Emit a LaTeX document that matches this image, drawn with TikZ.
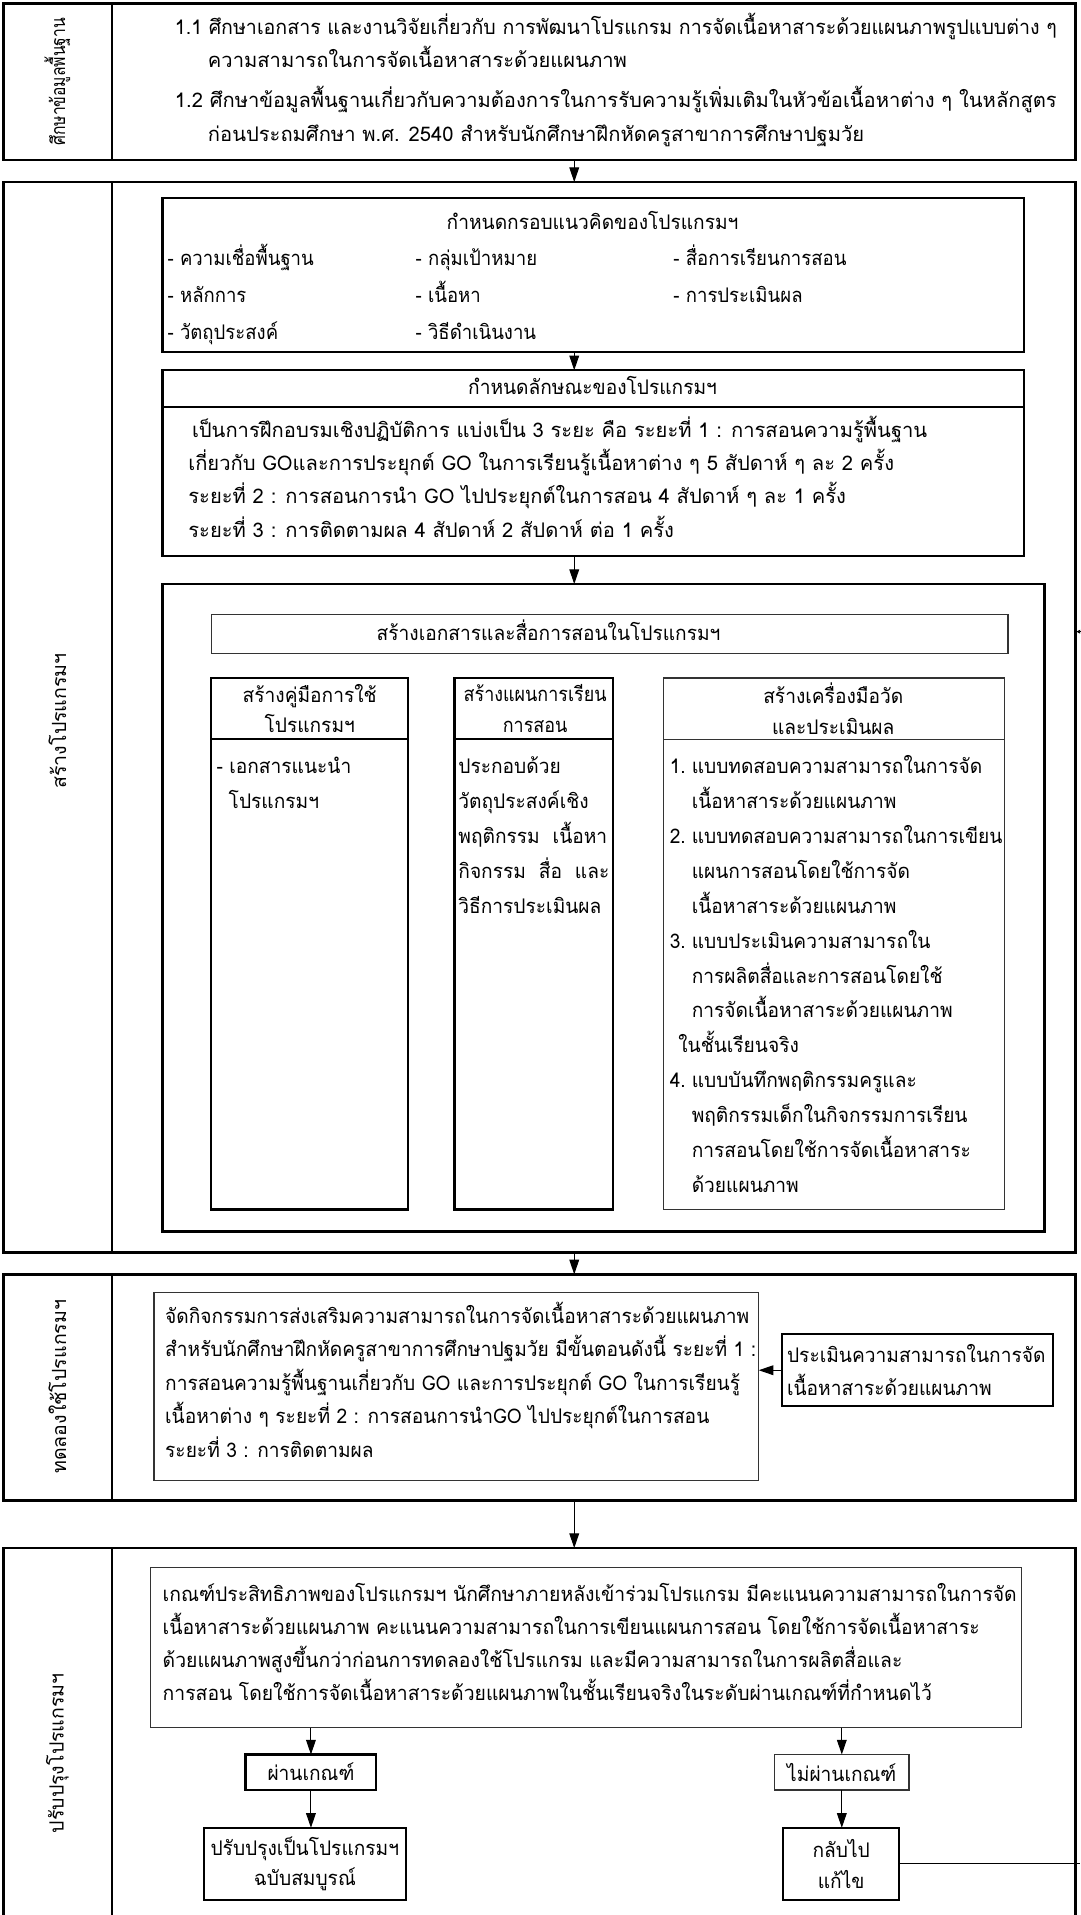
\documentclass[tikz,border=0pt]{standalone}
\usepackage{fontspec}
\setmainfont[Script=Thai,FakeStretch=0.95]{Loma}
\newfontfamily\fx[Script=Thai]{Loma}
\newfontfamily\fxa[Script=Thai,FakeStretch=0.972]{Loma}
\newfontfamily\fxf[Script=Thai,FakeStretch=0.96]{Loma}
\newfontfamily\fxc[Script=Thai,FakeStretch=0.92]{Loma}
\newfontfamily\fxn[Script=Thai,FakeStretch=0.89]{Loma}
\newfontfamily\fxl[Script=Thai,FakeStretch=0.8]{Loma}
\usetikzlibrary{arrows.meta,calc}
\newcommand{\bodyfont}{\fontsize{16.5}{27.4}\selectfont}
\newcommand{\itemfont}{\fxc\fontsize{16.5}{30.5}\selectfont}
\newcommand{\colfont}{\fontsize{16.5}{28.6}\selectfont}
\newcommand{\hdfont}{\fontsize{16.5}{25}\selectfont}
\newcommand{\labfont}{\fx\fontsize{16}{20}\selectfont}
\begin{document}
\begin{tikzpicture}[x=1pt,y=-1pt,
  sect/.style={draw, line width=2.2pt, minimum width=877pt, inner sep=0pt, outer sep=0pt, anchor=north west},
  box/.style={draw, line width=1.8pt, inner sep=0pt, outer sep=0pt, anchor=north west},
  thinbox/.style={draw=black!80, line width=1pt, inner sep=0pt, outer sep=0pt, anchor=north west},
  arr/.style={-{Triangle[length=12pt,width=8pt]}, line width=0.8pt},
  txt/.style={inner sep=0pt, anchor=base west, align=left, font=\bodyfont},
  ctxt/.style={inner sep=0pt, align=center, font=\hdfont},
  lab/.style={rotate=90, font=\labfont, inner sep=0pt},
  divline/.style={line width=1.5pt}]
\useasboundingbox (0,0) rectangle (884,1567.4);
\coordinate (axis) at (470,0);
\coordinate (div) at (92,0);

% ---------- section 1
\node[sect, minimum height=128pt] (S1) at (3,3) {};
\draw[divline] (S1.north west -| div) -- (S1.south west -| div);
\node[lab, font=\fxl\fontsize{16}{20}\selectfont] (L1) at (47,67) {ศึกษาข้อมูลพื้นฐาน};
\node[txt, font=\fxa\bodyfont] (t1a) at (143,28) {1.1 ศึกษาเอกสาร และงานวิจัยเกี่ยวกับ การพัฒนาโปรแกรม การจัดเนื้อหาสาระด้วยแผนภาพรูปแบบต่าง ๆ};
\node[txt, font=\fx\bodyfont] (t1b) at (170,55) {ความสามารถในการจัดเนื้อหาสาระด้วยแผนภาพ};
\node[txt, font=\fx\bodyfont] (t1c) at (143,88) {1.2 ศึกษาข้อมูลพื้นฐานเกี่ยวกับความต้องการในการรับความรู้เพิ่มเติมในหัวข้อเนื้อหาต่าง ๆ ในหลักสูตร};
\node[txt, font=\fx\bodyfont] (t1d) at (170,116) {ก่อนประถมศึกษา พ.ศ. 2540 สำหรับนักศึกษาฝึกหัดครูสาขาการศึกษาปฐมวัย};

% ---------- section 2
\node[sect, minimum height=876pt] (S2) at (3,149) {};
\draw[divline] (S2.north west -| div) -- (S2.south west -| div);
\node[lab] (L2) at (47,590) {สร้างโปรแกรมฯ};
\draw[arr] (S1.south -| axis) -- (S2.north -| axis);

\node[box, minimum width=705pt, minimum height=126pt] (A) at (133,162) {};
\node[ctxt, anchor=base] (Ah) at (485,188) {กำหนดกรอบแนวคิดของโปรแกรมฯ};
\node[txt, font=\itemfont] (a1) at (137,278) {- ความเชื่อพื้นฐาน\\- หลักการ\\- วัตถุประสงค์};
\node[txt, font=\itemfont] (a2) at (340,278) {- กลุ่มเป้าหมาย\\- เนื้อหา\\- วิธีดำเนินงาน};
\node[txt, font=\itemfont] (a3) at (551,247.5) {- สื่อการเรียนการสอน\\- การประเมินผล};

\node[box, minimum width=705pt, minimum height=152pt] (B) at (133,303) {};
\draw[line width=1.8pt] (133,333) -- (838,333);
\node[ctxt, anchor=base] (Bh) at (485,323) {กำหนดลักษณะของโปรแกรมฯ};
\node[txt, font=\fx\bodyfont] (b1) at (157,358) {เป็นการฝึกอบรมเชิงปฏิบัติการ แบ่งเป็น 3 ระยะ คือ ระยะที่ 1 : การสอนความรู้พื้นฐาน};
\node[txt, font=\fx\bodyfont] (b2) at (154,439.8) {เกี่ยวกับ GOและการประยุกต์ GO ในการเรียนรู้เนื้อหาต่าง ๆ 5 สัปดาห์ ๆ ละ 2 ครั้ง\\ระยะที่ 2 : การสอนการนำ GO ไปประยุกต์ในการสอน 4 สัปดาห์ ๆ ละ 1 ครั้ง\\ระยะที่ 3 : การติดตามผล 4 สัปดาห์ 2 สัปดาห์ ต่อ 1 ครั้ง};
\draw[arr] (A.south -| axis) -- (B.north -| axis);

\node[box, line width=2.2pt, minimum width=722pt, minimum height=530pt] (C) at (133,478) {};
\draw[arr] (B.south -| axis) -- (C.north -| axis);
\node[thinbox, minimum width=652pt, minimum height=32pt] (H) at (173,503) {};
\node[ctxt, anchor=base] (Hh) at (449,524) {สร้างเอกสารและสื่อการสอนในโปรแกรมฯ};

\node[box, minimum width=161pt, minimum height=435pt] (K1) at (173,555) {};
\draw[line width=1.8pt] (173,605) -- (334,605);
\node[ctxt] (K1h) at (253.5,580) {สร้างคู่มือการใช้\\โปรแกรมฯ};
\node[txt, font=\colfont] (k1) at (177,661.6) {- เอกสารแนะนำ\\\hspace*{10pt}โปรแกรมฯ};

\node[box, minimum width=130pt, minimum height=435pt] (K2) at (372,555) {};
\draw[line width=1.8pt] (372,605) -- (502,605);
\node[ctxt, font=\fxn\hdfont] (K2h) at (438,580) {สร้างแผนการเรียน\\การสอน};
\node[txt, font=\colfont] (k2) at (375,747.4) {ประกอบด้วย\\วัตถุประสงค์เชิง\\พฤติกรรม \ เนื้อหา\\กิจกรรม \ สื่อ \ และ\\วิธีการประเมินผล};

\node[thinbox, minimum width=279pt, minimum height=435pt] (K3) at (543,555) {};
\draw[draw=black!80, line width=1pt] (543,605) -- (822,605);
\node[ctxt] (K3h) at (682,580) {สร้างเครื่องมือวัด\\และประเมินผล};
\node[txt, font=\colfont] (k3) at (548,976.2) {\makebox[18pt][l]{1.}แบบทดสอบความสามารถในการจัด\\\hspace*{18pt}เนื้อหาสาระด้วยแผนภาพ\\\makebox[18pt][l]{2.}แบบทดสอบความสามารถในการเขียน\\\hspace*{18pt}แผนการสอนโดยใช้การจัด\\\hspace*{18pt}เนื้อหาสาระด้วยแผนภาพ\\\makebox[18pt][l]{3.}แบบประเมินความสามารถใน\\\hspace*{18pt}การผลิตสื่อและการสอนโดยใช้\\\hspace*{18pt}การจัดเนื้อหาสาระด้วยแผนภาพ\\\hspace*{7pt}ในชั้นเรียนจริง\\\makebox[18pt][l]{4.}แบบบันทึกพฤติกรรมครูและ\\\hspace*{18pt}พฤติกรรมเด็กในกิจกรรมการเรียน\\\hspace*{18pt}การสอนโดยใช้การจัดเนื้อหาสาระ\\\hspace*{18pt}ด้วยแผนภาพ};

% feedback arrow end at right edge
\coordinate (fbA) at (884,517);
\coordinate (fbB) at (881,517);
\draw[-{Triangle[length=3pt,width=3pt]}, line width=0.6pt] (fbA) -- (fbB);

% ---------- section 3
\node[sect, minimum height=185pt] (S3) at (3,1043) {};
\draw[divline] (S3.north west -| div) -- (S3.south west -| div);
\node[lab] (L3) at (47,1135) {ทดลองใช้โปรแกรมฯ};
\draw[arr] (S2.south -| axis) -- (S3.north -| axis);
\node[thinbox, minimum width=495pt, minimum height=154pt] (D) at (126,1058) {};
\node[txt] (d1) at (135,1192.6) {จัดกิจกรรมการส่งเสริมความสามารถในการจัดเนื้อหาสาระด้วยแผนภาพ\\สำหรับนักศึกษาฝึกหัดครูสาขาการศึกษาปฐมวัย มีขั้นตอนดังนี้ ระยะที่ 1 :\\การสอนความรู้พื้นฐานเกี่ยวกับ GO และการประยุกต์ GO ในการเรียนรู้\\เนื้อหาต่าง ๆ ระยะที่ 2 : การสอนการนำGO ไปประยุกต์ในการสอน\\ระยะที่ 3 : การติดตามผล};
\node[box, line width=1.4pt, minimum width=222pt, minimum height=59pt] (E) at (640,1092) {};
\node[txt] (e1) at (644,1142.4) {ประเมินความสามารถในการจัด\\เนื้อหาสาระด้วยแผนภาพ};
\draw[arr] (E.west) -- (D.east |- E.west);

% ---------- section 4 (bottom edge lies outside the picture)
\node[inner sep=0pt, outer sep=0pt, anchor=north west, minimum width=877pt, minimum height=302pt] (S4) at (3,1267) {};
\draw[line width=2.2pt] (S4.south west) -- (S4.north west) -- (S4.north east) -- (S4.south east);
\draw[divline] (S4.north west -| div) -- (S4.south west -| div);
\node[lab] (L4) at (47,1435) {ปรับปรุงโปรแกรมฯ};
\draw[arr] (S3.south -| axis) -- (S4.north -| axis);

\node[thinbox, minimum width=713pt, minimum height=131pt] (F) at (123,1283) {};
\node[txt, font=\fxf\fontsize{16.5}{27}\selectfont] (f1) at (133,1392) {เกณฑ์ประสิทธิภาพของโปรแกรมฯ นักศึกษาภายหลังเข้าร่วมโปรแกรม มีคะแนนความสามารถในการจัด\\เนื้อหาสาระด้วยแผนภาพ คะแนนความสามารถในการเขียนแผนการสอน โดยใช้การจัดเนื้อหาสาระ\\ด้วยแผนภาพสูงขึ้นกว่าก่อนการทดลองใช้โปรแกรม และมีความสามารถในการผลิตสื่อและ\\การสอน โดยใช้การจัดเนื้อหาสาระด้วยแผนภาพในชั้นเรียนจริงในระดับผ่านเกณฑ์ที่กำหนดไว้};

\node[box, minimum width=107pt, minimum height=29pt] (P1) at (201,1436) {};
\node[ctxt] (p1) at (P1.center) {ผ่านเกณฑ์};
\node[thinbox, line width=1.2pt, minimum width=110pt, minimum height=29pt] (P2) at (634,1436) {};
\node[ctxt] (p2) at (P2.center) {ไม่ผ่านเกณฑ์};
\node[box, minimum width=165pt, minimum height=59pt] (Q1) at (167,1496) {};
\node[ctxt] (q1) at (Q1.center) {ปรับปรุงเป็นโปรแกรมฯ\\ฉบับสมบูรณ์};
\node[box, minimum width=95pt, minimum height=59pt] (Q2) at (641,1496) {};
\node[ctxt] (q2) at (Q2.center) {กลับไป\\แก้ไข};

\draw[arr] (F.south -| P1.north) -- (P1.north);
\draw[arr] (F.south -| P2.north) -- (P2.north);
\draw[arr] (P1.south) -- (Q1.north -| P1.south);
\draw[arr] (P2.south) -- (Q2.north -| P2.south);
\coordinate (fbR) at (884,1525);
\draw[line width=0.8pt] (Q2.east) -- (fbR |- Q2.east);
\end{tikzpicture}
\end{document}
